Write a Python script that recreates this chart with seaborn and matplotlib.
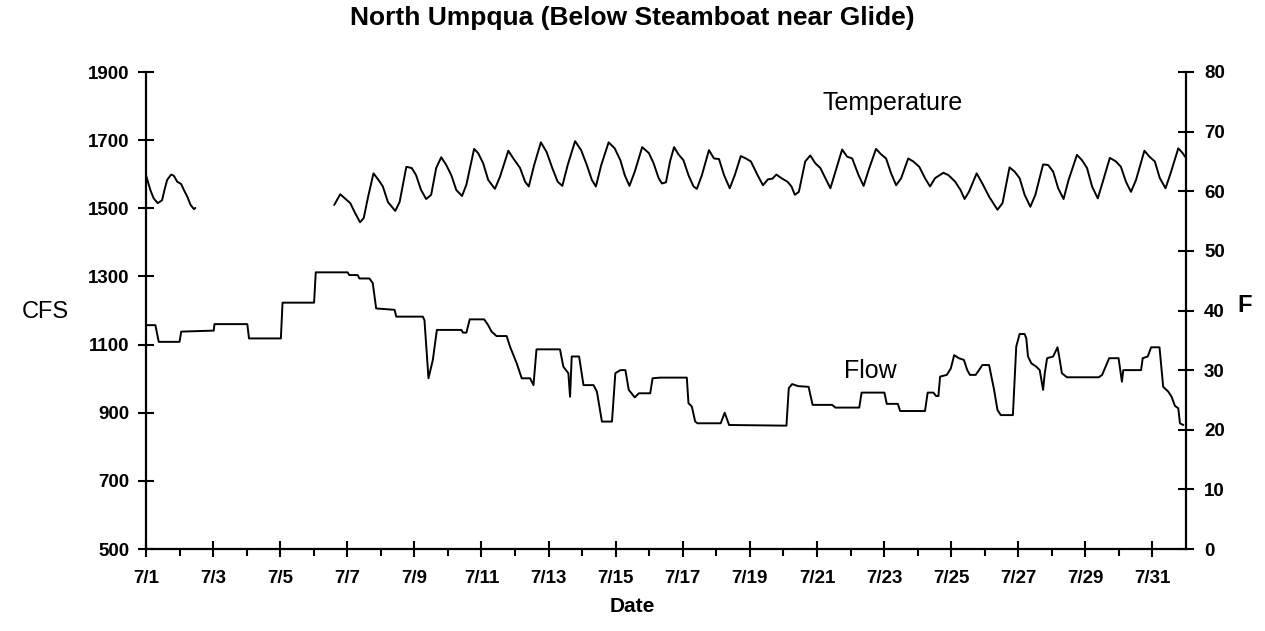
import matplotlib
matplotlib.use("Agg")
import matplotlib.pyplot as plt
import seaborn as sns
import pandas as pd

# ---------------- data (days after 7/1 00:00) ----------------
flow_day = [0.00, 0.28, 0.38, 1.00, 1.05, 2.02, 2.04, 3.02, 3.07, 4.02, 4.07, 5.01, 5.06,
            6.01, 6.06, 6.31, 6.36, 6.66, 6.76, 6.86, 7.41, 7.46, 8.25, 8.30, 8.42, 8.55,
            8.67, 9.40, 9.45, 9.55, 9.65, 10.08, 10.20, 10.30, 10.45, 10.75, 10.85, 11.05,
            11.20, 11.45, 11.55, 11.64, 12.34, 12.44, 12.59, 12.64, 12.69, 12.91, 13.04,
            13.34, 13.44, 13.59, 13.89, 13.99, 14.14, 14.29, 14.39, 14.57, 14.69, 15.03,
            15.10, 15.32, 16.12, 16.17, 16.27, 16.37, 16.44, 17.13, 17.25, 17.38, 19.09,
            19.16, 19.26, 19.44, 19.75, 19.87, 20.45, 20.55, 21.26, 21.33, 22.01, 22.08,
            22.41, 22.48, 23.22, 23.30, 23.47, 23.55, 23.62, 23.67, 23.87, 23.99, 24.09,
            24.23, 24.38, 24.48, 24.56, 24.73, 24.83, 24.93, 25.13, 25.18, 25.28, 25.38,
            25.48, 25.84, 25.94, 26.04, 26.19, 26.24, 26.29, 26.39, 26.54, 26.64, 26.74,
            26.79, 26.86, 27.04, 27.17, 27.22, 27.30, 27.45, 28.40, 28.50, 28.71, 28.99,
            29.09, 29.13, 29.66, 29.71, 29.86, 29.96, 30.21, 30.32, 30.47, 30.57, 30.67,
            30.77, 30.82, 30.92]
flow_cfs = [1157, 1157, 1108, 1108, 1138, 1141, 1160, 1160, 1118, 1118, 1223, 1223, 1312,
            1312, 1304, 1304, 1294, 1294, 1280, 1206, 1202, 1182, 1182, 1172, 1001, 1055,
            1143, 1143, 1135, 1135, 1174, 1174, 1157, 1138, 1125, 1125, 1094, 1045,
            1001, 1001, 981, 1086, 1086, 1035, 1016, 947, 1065, 1065, 981,
            981, 962, 874, 874, 1016, 1025, 1025, 967, 945, 957, 957,
            1001, 1003, 1003, 928, 918, 874, 869, 869, 900, 864, 862,
            972, 984, 978, 976, 923, 923, 915, 915, 959, 959, 926,
            926, 905, 905, 959, 959, 949, 949, 1006, 1011, 1030, 1069,
            1060, 1055, 1025, 1011, 1011, 1025, 1040, 1040, 1016, 967, 908,
            893, 893, 1094, 1131, 1131, 1118, 1065, 1045, 1035, 1025, 967,
            1016, 1060, 1065, 1092, 1065, 1016, 1004, 1004, 1011, 1060, 1060,
            991, 1025, 1025, 1060, 1065, 1092, 1092, 976, 962, 947, 920,
            913, 869, 864]

temp1_day = [0.00, 0.13, 0.23, 0.35, 0.48, 0.55, 0.63, 0.75, 0.83, 0.93, 1.05, 1.13, 1.23,
             1.33, 1.43, 1.47]
temp1_f = [62.7, 60.2, 58.8, 58.0, 58.5, 60.2, 61.9, 62.8, 62.6, 61.6, 61.2, 60.2, 59.1,
           57.7, 57.0, 57.2]

temp2_day = [5.61, 5.79, 5.93, 6.09, 6.21, 6.38, 6.49, 6.61, 6.78, 6.93, 7.06, 7.21, 7.43,
             7.56, 7.76, 7.92, 8.05, 8.20, 8.35, 8.50, 8.65, 8.80, 8.95, 9.10, 9.25, 9.42,
             9.55, 9.78, 9.90, 10.05, 10.20, 10.40, 10.55, 10.80, 10.95, 11.15, 11.30, 11.41,
             11.57, 11.77, 11.94, 12.11, 12.27, 12.41, 12.57, 12.79, 12.97, 13.14, 13.29,
             13.41, 13.57, 13.79, 13.97, 14.14, 14.27, 14.41, 14.57, 14.79, 14.99, 15.13,
             15.28, 15.38, 15.50, 15.62, 15.74, 15.87, 16.02, 16.17, 16.32, 16.42, 16.57,
             16.78, 16.93, 17.08, 17.23, 17.40, 17.55, 17.73, 17.88, 18.03, 18.23, 18.39,
             18.54, 18.67, 18.79, 18.94, 19.12, 19.24, 19.34, 19.46, 19.65, 19.80, 19.95,
             20.10, 20.25, 20.40, 20.55, 20.75, 20.90, 21.05, 21.24, 21.39, 21.56, 21.76,
             21.91, 22.06, 22.21, 22.36, 22.51, 22.72, 22.87, 23.05, 23.22, 23.37, 23.52,
             23.77, 23.92, 24.12, 24.28, 24.40, 24.53, 24.76, 24.93, 25.13, 25.38, 25.53,
             25.74, 25.89, 26.04, 26.19, 26.36, 26.51, 26.74, 26.89, 27.04, 27.19, 27.35,
             27.50, 27.75, 27.90, 28.05, 28.20, 28.37, 28.52, 28.73, 28.91, 29.06, 29.21,
             29.36, 29.51, 29.76, 29.91, 30.07, 30.22, 30.39, 30.54, 30.77, 30.90, 30.97]
temp2_f = [57.7, 59.5, 58.8, 58.0, 56.6, 54.8, 55.5, 58.8, 63.0, 61.9, 60.8, 58.2, 56.7,
           58.2, 64.1, 63.9, 62.7, 60.2, 58.7, 59.4, 63.9, 65.7, 64.4, 62.7, 60.2, 59.2,
           61.1, 67.1, 66.4, 64.7, 61.9, 60.4, 62.4, 66.8, 65.5, 63.9, 61.6, 60.8,
           64.4, 68.2, 66.6, 63.9, 61.6, 60.9, 64.4, 68.4, 66.9, 64.4, 61.9,
           60.8, 64.4, 68.2, 67.2, 65.2, 62.7, 60.9, 63.3, 67.4, 66.4, 64.7,
           62.2, 61.3, 61.5, 65.0, 67.4, 66.2, 65.2, 62.7, 60.8, 60.4, 62.7,
           66.9, 65.5, 65.4, 62.7, 60.5, 62.7, 65.9, 65.5, 65.0, 62.7, 61.0,
           62.0, 62.1, 62.8, 62.2, 61.6, 60.8, 59.4, 59.9, 65.0, 66.0, 64.7,
           63.9, 62.2, 60.5, 63.3, 67.0, 65.8, 65.5, 62.7, 60.9, 63.9, 67.1,
           66.2, 65.5, 63.0, 61.0, 62.2, 65.5, 65.0, 64.1, 62.2, 60.8, 62.2,
           63.1, 62.7, 61.6, 60.2, 58.7, 59.9, 63.0, 61.3, 59.1, 56.9, 58.0,
           64.0, 63.3, 62.2, 59.4, 57.4, 59.4, 64.5, 64.4, 63.3, 60.5, 58.7,
           61.9, 66.1, 65.2, 63.9, 60.8, 58.8, 61.6, 65.6, 65.0, 64.1, 61.6,
           59.9, 61.9, 66.8, 65.8, 65.0, 62.2, 60.5, 63.0, 67.2, 66.4, 65.8]

cfs_ticks = [500, 700, 900, 1100, 1300, 1500, 1700, 1900]
f_ticks = [0, 10, 20, 30, 40, 50, 60, 70, 80]
date_tick_days = [0, 2, 4, 6, 8, 10, 12, 14, 16, 18, 20, 22, 24, 26, 28, 30]
date_tick_labels = ["7/1", "7/3", "7/5", "7/7", "7/9", "7/11", "7/13", "7/15",
                    "7/17", "7/19", "7/21", "7/23", "7/25", "7/27", "7/29", "7/31"]

title = "North Umpqua (Below Steamboat near Glide)"

# ---------------- frames ----------------
flow_df = pd.DataFrame({"day": flow_day, "cfs": flow_cfs})
temp_df = pd.concat([
    pd.DataFrame({"day": temp1_day, "temp": temp1_f, "seg": 0}),
    pd.DataFrame({"day": temp2_day, "temp": temp2_f, "seg": 1}),
], ignore_index=True)

# ---------------- style ----------------
sns.set_style("ticks")
plt.rcParams["font.family"] = ["Liberation Sans", "DejaVu Sans"]
plt.rcParams["text.color"] = "black"
plt.rcParams["axes.labelcolor"] = "black"
plt.rcParams["xtick.color"] = "black"
plt.rcParams["ytick.color"] = "black"

W, H = 1265, 631
fig = plt.figure(figsize=(W / 100, H / 100), dpi=100)
fig.subplots_adjust(left=146 / W, right=1186 / W, bottom=1 - 549 / H, top=1 - 72 / H)
ax = fig.add_subplot(111)
ax2 = ax.twinx()

lw = 1.4
sns.lineplot(data=flow_df, x="day", y="cfs", sort=False, estimator=None,
             color="black", lw=lw, ax=ax)
sns.lineplot(data=temp_df, x="day", y="temp", units="seg", estimator=None, sort=False,
             color="black", lw=lw, ax=ax2)

ax.set_xlim(0, 31)
ax.set_ylim(500, 1900)
ax2.set_ylim(0, 80)

ax.set_yticks(cfs_ticks)
ax.set_yticklabels([str(v) for v in cfs_ticks])
ax2.set_yticks(f_ticks)
ax2.set_yticklabels([str(v) for v in f_ticks])
ax.set_xticks(date_tick_days)
ax.set_xticklabels(date_tick_labels)
ax.set_xticks(range(0, 31), minor=True)

for a in (ax, ax2):
    for s in a.spines.values():
        s.set_linewidth(1.6)
        s.set_color("black")
    a.spines["top"].set_visible(False)
ax.spines["right"].set_visible(False)
ax2.spines["left"].set_visible(False)
ax2.spines["bottom"].set_visible(False)

ax.tick_params(axis="y", direction="inout", length=12, width=1.5, pad=6, colors="black")
ax2.tick_params(axis="y", direction="inout", length=12, width=1.5, pad=7, colors="black")
ax.tick_params(axis="x", which="major", direction="inout", length=12, width=1.5, pad=9,
               colors="black")
ax.tick_params(axis="x", which="minor", direction="out", length=5, width=1.5, colors="black")
for lab in ax.get_yticklabels() + ax2.get_yticklabels() + ax.get_xticklabels():
    lab.set_fontsize(13.5)
    lab.set_fontweight("bold")
    lab.set_color("black")

ax.set_xlabel("")
ax.set_ylabel("")
ax2.set_ylabel("")
ax.grid(False)
ax2.grid(False)

fig.text(632 / W, 1 - 18 / H, title, ha="center", va="center", fontsize=19,
         fontweight="bold", color="black")
fig.text(632 / W, 1 - 606 / H, "Date", ha="center", va="center", fontsize=15,
         fontweight="bold", color="black")
fig.text(45 / W, 1 - 312 / H, "CFS", ha="center", va="center", fontsize=17, color="black")
fig.text(1245 / W, 1 - 305 / H, "F", ha="center", va="center", fontsize=17,
         fontweight="bold", color="black")

ax.text(22.25, 1809, "Temperature", ha="center", va="center", fontsize=18, color="black")
ax.text(21.6, 1022, "Flow", ha="center", va="center", fontsize=18, color="black")

fig.savefig("out.png", dpi=100, facecolor="white")
